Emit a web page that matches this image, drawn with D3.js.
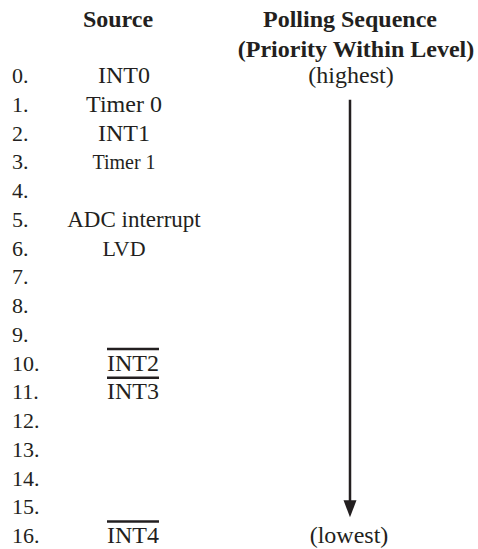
<!DOCTYPE html>
<html>
<head>
<meta charset="utf-8">
<script src="https://cdn.jsdelivr.net/npm/d3@7"></script>
<style>
  body { margin: 0; background: #fff; }
  text { font-family: "Liberation Serif", "Times New Roman", serif; fill: #231f20; }
</style>
</head>
<body>
<div id="chart"></div>
<script>
// polling order, 0 = highest priority
var levels = d3.range(0, 17);
var sources = ["INT0", "Timer 0", "INT1", "Timer 1", "", "ADC interrupt", "LVD", "", "", "",
               "INT2", "INT3", "", "", "", "", "INT4"];
// active-low pins, drawn with an overbar
var overlined = ["INT2", "INT3", "INT4"];
var headers = ["Source", "Polling Sequence", "(Priority Within Level)"];
var ends = ["(highest)", "(lowest)"];

var width = 478, height = 549;
var ink = "#231f20";

// the source sheet is not quite even, a few names sit off the column
var nameSize = { "Timer 1": 20, "LVD": 22, "ADC interrupt": 23 };
var nameX = { "ADC interrupt": 134 };

var svg = d3.select("#chart")
            .append("svg")
            .attr("width", width)
            .attr("height", height);

// row baselines
var y = d3.scalePoint()
          .domain(levels)
          .range([83, 543]);

//headers
svg.append("text")
   .attr("x", 118).attr("y", 27)
   .attr("text-anchor", "middle")
   .style("font-size", "24px").style("font-weight", "bold")
   .text(headers[0]);

svg.append("text")
   .attr("x", 350).attr("y", 27)
   .attr("text-anchor", "middle")
   .style("font-size", "24px").style("font-weight", "bold")
   .text(headers[1]);

svg.append("text")
   .attr("x", 356).attr("y", 57)
   .attr("text-anchor", "middle")
   .style("font-size", "24px").style("font-weight", "bold")
   .text(headers[2]);

// level numbers
svg.selectAll(".num")
   .data(levels)
   .enter()
   .append("text")
   .attr("class", "num")
   .attr("x", 12)
   .attr("y", function (d) { return y(d); })
   .style("font-size", "22px")
   .text(function (d) { return d + "."; });

// source names
function isBar(d) { return overlined.indexOf(sources[d]) >= 0; }

var names = svg.selectAll(".src")
   .data(levels.filter(function (d) { return sources[d] !== ""; }))
   .enter()
   .append("text")
   .attr("class", "src")
   .attr("x", function (d) { return isBar(d) ? 107 : (nameX[sources[d]] || 124); })
   .attr("y", function (d) { return y(d); })
   .attr("text-anchor", function (d) { return isBar(d) ? "start" : "middle"; })
   .style("font-size", function (d) { return (nameSize[sources[d]] || 24) + "px"; })
   .text(function (d) { return sources[d]; });

// overbars
names.filter(isBar)
     .each(function (d) {
       var b = this.getBBox();
       svg.append("line")
          .attr("x1", b.x).attr("x2", b.x + b.width)
          .attr("y1", y(d) - 21.5).attr("y2", y(d) - 21.5)
          .style("stroke", ink)
          .style("stroke-width", 2.5);
     });

// arrow
var ax = 350;
svg.append("line")
   .attr("x1", ax).attr("x2", ax)
   .attr("y1", y(1) - 12)
   .attr("y2", y(15) - 8)
   .style("stroke", ink)
   .style("stroke-width", 2.5);

svg.append("path")
   .attr("d", "M" + (ax - 6.5) + "," + (y(15) - 14) + "L" + (ax + 6.5) + "," + (y(15) - 14) + "L" + ax + "," + (y(15) + 3) + "Z")
   .style("fill", ink);

svg.append("text")
   .attr("x", ax + 1).attr("y", y(0))
   .attr("text-anchor", "middle")
   .style("font-size", "24px")
   .text(ends[0]);

svg.append("text")
   .attr("x", ax - 1).attr("y", y(16))
   .attr("text-anchor", "middle")
   .style("font-size", "24px")
   .text(ends[1]);
</script>
</body>
</html>
